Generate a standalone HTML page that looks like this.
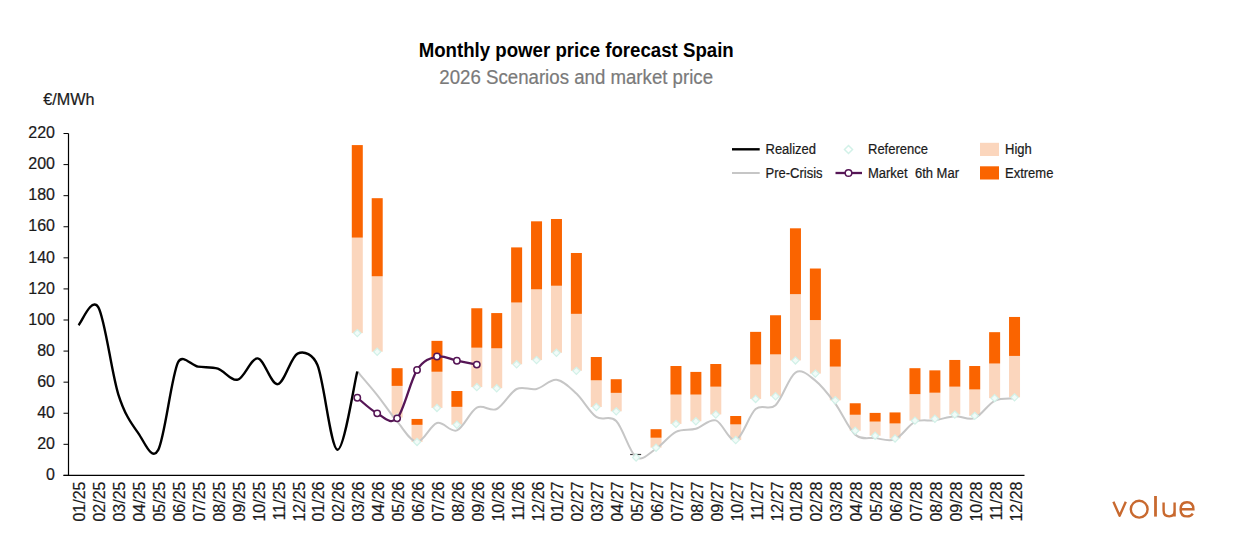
<!DOCTYPE html>
<html><head><meta charset="utf-8">
<style>
html,body{margin:0;padding:0;background:#fff;}
body{width:1235px;height:550px;overflow:hidden;position:relative;font-family:"Liberation Sans",sans-serif;}
svg{position:absolute;left:0;top:0;}
text{font-family:"Liberation Sans",sans-serif;fill:#1a1a1a;stroke:#1a1a1a;stroke-width:0.2px;}
.ax text{font-size:16px;} .yl{font-size:16.5px}
.lg text{font-size:13px;}
</style></head><body>
<svg width="1235" height="550" viewBox="0 0 1235 550">
<text transform="translate(576.2,56.8) scale(1,1.06)" text-anchor="middle" style="font-size:18.67px;font-weight:bold;fill:#000;stroke:none">Monthly power price forecast Spain</text>
<text transform="translate(576.2,83.8) scale(1,1.06)" text-anchor="middle" style="font-size:18.67px;fill:#7a7a7a;stroke:#7a7a7a">2026 Scenarios and market price</text>
<text x="43.2" y="105.2" style="font-size:16.2px">€/MWh</text>
<g class="ax"><text class="yl" x="55" y="480.10" text-anchor="end">0</text>
<text class="yl" x="55" y="449.02" text-anchor="end">20</text>
<text class="yl" x="55" y="417.94" text-anchor="end">40</text>
<text class="yl" x="55" y="386.86" text-anchor="end">60</text>
<text class="yl" x="55" y="355.78" text-anchor="end">80</text>
<text class="yl" x="55" y="324.70" text-anchor="end">100</text>
<text class="yl" x="55" y="293.62" text-anchor="end">120</text>
<text class="yl" x="55" y="262.54" text-anchor="end">140</text>
<text class="yl" x="55" y="231.46" text-anchor="end">160</text>
<text class="yl" x="55" y="200.38" text-anchor="end">180</text>
<text class="yl" x="55" y="169.30" text-anchor="end">200</text>
<text class="yl" x="55" y="138.22" text-anchor="end">220</text>
<text transform="translate(85.46,481.50) rotate(-90)" text-anchor="end">01/25</text>
<text transform="translate(105.38,481.50) rotate(-90)" text-anchor="end">02/25</text>
<text transform="translate(125.29,481.50) rotate(-90)" text-anchor="end">03/25</text>
<text transform="translate(145.21,481.50) rotate(-90)" text-anchor="end">04/25</text>
<text transform="translate(165.12,481.50) rotate(-90)" text-anchor="end">05/25</text>
<text transform="translate(185.04,481.50) rotate(-90)" text-anchor="end">06/25</text>
<text transform="translate(204.96,481.50) rotate(-90)" text-anchor="end">07/25</text>
<text transform="translate(224.88,481.50) rotate(-90)" text-anchor="end">08/25</text>
<text transform="translate(244.79,481.50) rotate(-90)" text-anchor="end">09/25</text>
<text transform="translate(264.71,481.50) rotate(-90)" text-anchor="end">10/25</text>
<text transform="translate(284.62,481.50) rotate(-90)" text-anchor="end">11/25</text>
<text transform="translate(304.54,481.50) rotate(-90)" text-anchor="end">12/25</text>
<text transform="translate(324.46,481.50) rotate(-90)" text-anchor="end">01/26</text>
<text transform="translate(344.38,481.50) rotate(-90)" text-anchor="end">02/26</text>
<text transform="translate(364.29,481.50) rotate(-90)" text-anchor="end">03/26</text>
<text transform="translate(384.21,481.50) rotate(-90)" text-anchor="end">04/26</text>
<text transform="translate(404.12,481.50) rotate(-90)" text-anchor="end">05/26</text>
<text transform="translate(424.04,481.50) rotate(-90)" text-anchor="end">06/26</text>
<text transform="translate(443.96,481.50) rotate(-90)" text-anchor="end">07/26</text>
<text transform="translate(463.88,481.50) rotate(-90)" text-anchor="end">08/26</text>
<text transform="translate(483.79,481.50) rotate(-90)" text-anchor="end">09/26</text>
<text transform="translate(503.71,481.50) rotate(-90)" text-anchor="end">10/26</text>
<text transform="translate(523.62,481.50) rotate(-90)" text-anchor="end">11/26</text>
<text transform="translate(543.54,481.50) rotate(-90)" text-anchor="end">12/26</text>
<text transform="translate(563.46,481.50) rotate(-90)" text-anchor="end">01/27</text>
<text transform="translate(583.38,481.50) rotate(-90)" text-anchor="end">02/27</text>
<text transform="translate(603.29,481.50) rotate(-90)" text-anchor="end">03/27</text>
<text transform="translate(623.21,481.50) rotate(-90)" text-anchor="end">04/27</text>
<text transform="translate(643.12,481.50) rotate(-90)" text-anchor="end">05/27</text>
<text transform="translate(663.04,481.50) rotate(-90)" text-anchor="end">06/27</text>
<text transform="translate(682.96,481.50) rotate(-90)" text-anchor="end">07/27</text>
<text transform="translate(702.88,481.50) rotate(-90)" text-anchor="end">08/27</text>
<text transform="translate(722.79,481.50) rotate(-90)" text-anchor="end">09/27</text>
<text transform="translate(742.71,481.50) rotate(-90)" text-anchor="end">10/27</text>
<text transform="translate(762.62,481.50) rotate(-90)" text-anchor="end">11/27</text>
<text transform="translate(782.54,481.50) rotate(-90)" text-anchor="end">12/27</text>
<text transform="translate(802.46,481.50) rotate(-90)" text-anchor="end">01/28</text>
<text transform="translate(822.38,481.50) rotate(-90)" text-anchor="end">02/28</text>
<text transform="translate(842.29,481.50) rotate(-90)" text-anchor="end">03/28</text>
<text transform="translate(862.21,481.50) rotate(-90)" text-anchor="end">04/28</text>
<text transform="translate(882.12,481.50) rotate(-90)" text-anchor="end">05/28</text>
<text transform="translate(902.04,481.50) rotate(-90)" text-anchor="end">06/28</text>
<text transform="translate(921.96,481.50) rotate(-90)" text-anchor="end">07/28</text>
<text transform="translate(941.88,481.50) rotate(-90)" text-anchor="end">08/28</text>
<text transform="translate(961.79,481.50) rotate(-90)" text-anchor="end">09/28</text>
<text transform="translate(981.71,481.50) rotate(-90)" text-anchor="end">10/28</text>
<text transform="translate(1001.62,481.50) rotate(-90)" text-anchor="end">11/28</text>
<text transform="translate(1021.54,481.50) rotate(-90)" text-anchor="end">12/28</text></g>
<rect x="351.79" y="237.62" width="11.00" height="95.48" fill="#FBD6BD"/>
<rect x="351.79" y="145.09" width="11.00" height="92.53" fill="#FA6400"/>
<rect x="371.71" y="276.28" width="11.00" height="75.45" fill="#FBD6BD"/>
<rect x="371.71" y="198.19" width="11.00" height="78.09" fill="#FA6400"/>
<rect x="391.62" y="385.89" width="11.00" height="31.67" fill="#FBD6BD"/>
<rect x="391.62" y="368.19" width="11.00" height="17.70" fill="#FA6400"/>
<rect x="411.54" y="424.85" width="11.00" height="17.08" fill="#FBD6BD"/>
<rect x="411.54" y="418.95" width="11.00" height="5.90" fill="#FA6400"/>
<rect x="431.46" y="371.76" width="11.00" height="36.17" fill="#FBD6BD"/>
<rect x="431.46" y="340.86" width="11.00" height="30.89" fill="#FA6400"/>
<rect x="451.38" y="406.85" width="11.00" height="17.85" fill="#FBD6BD"/>
<rect x="451.38" y="391.01" width="11.00" height="15.84" fill="#FA6400"/>
<rect x="471.29" y="347.69" width="11.00" height="39.43" fill="#FBD6BD"/>
<rect x="471.29" y="308.26" width="11.00" height="39.43" fill="#FA6400"/>
<rect x="491.21" y="348.32" width="11.00" height="39.90" fill="#FBD6BD"/>
<rect x="491.21" y="313.07" width="11.00" height="35.24" fill="#FA6400"/>
<rect x="511.12" y="302.52" width="11.00" height="61.79" fill="#FBD6BD"/>
<rect x="511.12" y="247.40" width="11.00" height="55.11" fill="#FA6400"/>
<rect x="531.04" y="289.32" width="11.00" height="70.79" fill="#FBD6BD"/>
<rect x="531.04" y="221.32" width="11.00" height="68.00" fill="#FA6400"/>
<rect x="550.96" y="285.75" width="11.00" height="67.07" fill="#FBD6BD"/>
<rect x="550.96" y="218.99" width="11.00" height="66.76" fill="#FA6400"/>
<rect x="570.88" y="313.85" width="11.00" height="56.98" fill="#FBD6BD"/>
<rect x="570.88" y="252.99" width="11.00" height="60.86" fill="#FA6400"/>
<rect x="590.79" y="380.30" width="11.00" height="26.70" fill="#FBD6BD"/>
<rect x="590.79" y="357.01" width="11.00" height="23.29" fill="#FA6400"/>
<rect x="610.71" y="392.87" width="11.00" height="18.47" fill="#FBD6BD"/>
<rect x="610.71" y="379.21" width="11.00" height="13.66" fill="#FA6400"/>
<rect x="650.54" y="437.74" width="11.00" height="9.94" fill="#FBD6BD"/>
<rect x="650.54" y="429.20" width="11.00" height="8.54" fill="#FA6400"/>
<rect x="670.46" y="394.58" width="11.00" height="29.34" fill="#FBD6BD"/>
<rect x="670.46" y="366.01" width="11.00" height="28.57" fill="#FA6400"/>
<rect x="690.38" y="394.58" width="11.00" height="26.70" fill="#FBD6BD"/>
<rect x="690.38" y="371.91" width="11.00" height="22.67" fill="#FA6400"/>
<rect x="710.29" y="386.66" width="11.00" height="27.79" fill="#FBD6BD"/>
<rect x="710.29" y="364.00" width="11.00" height="22.67" fill="#FA6400"/>
<rect x="730.21" y="424.39" width="11.00" height="15.68" fill="#FBD6BD"/>
<rect x="730.21" y="416.00" width="11.00" height="8.38" fill="#FA6400"/>
<rect x="750.12" y="364.46" width="11.00" height="34.47" fill="#FBD6BD"/>
<rect x="750.12" y="331.86" width="11.00" height="32.60" fill="#FA6400"/>
<rect x="770.04" y="354.37" width="11.00" height="41.92" fill="#FBD6BD"/>
<rect x="770.04" y="315.25" width="11.00" height="39.12" fill="#FA6400"/>
<rect x="789.96" y="294.13" width="11.00" height="66.29" fill="#FBD6BD"/>
<rect x="789.96" y="228.31" width="11.00" height="65.83" fill="#FA6400"/>
<rect x="809.88" y="320.06" width="11.00" height="53.56" fill="#FBD6BD"/>
<rect x="809.88" y="268.52" width="11.00" height="51.54" fill="#FA6400"/>
<rect x="829.79" y="366.64" width="11.00" height="33.69" fill="#FBD6BD"/>
<rect x="829.79" y="339.31" width="11.00" height="27.32" fill="#FA6400"/>
<rect x="849.71" y="414.76" width="11.00" height="15.99" fill="#FBD6BD"/>
<rect x="849.71" y="403.27" width="11.00" height="11.49" fill="#FA6400"/>
<rect x="869.62" y="421.59" width="11.00" height="14.13" fill="#FBD6BD"/>
<rect x="869.62" y="412.90" width="11.00" height="8.69" fill="#FA6400"/>
<rect x="889.54" y="423.46" width="11.00" height="15.06" fill="#FBD6BD"/>
<rect x="889.54" y="412.43" width="11.00" height="11.02" fill="#FA6400"/>
<rect x="909.46" y="394.11" width="11.00" height="26.55" fill="#FBD6BD"/>
<rect x="909.46" y="368.19" width="11.00" height="25.93" fill="#FA6400"/>
<rect x="929.38" y="392.72" width="11.00" height="26.08" fill="#FBD6BD"/>
<rect x="929.38" y="370.36" width="11.00" height="22.36" fill="#FA6400"/>
<rect x="949.29" y="386.66" width="11.00" height="27.94" fill="#FBD6BD"/>
<rect x="949.29" y="359.96" width="11.00" height="26.70" fill="#FA6400"/>
<rect x="969.21" y="389.46" width="11.00" height="26.39" fill="#FBD6BD"/>
<rect x="969.21" y="366.01" width="11.00" height="23.44" fill="#FA6400"/>
<rect x="989.12" y="363.53" width="11.00" height="34.62" fill="#FBD6BD"/>
<rect x="989.12" y="332.17" width="11.00" height="31.36" fill="#FA6400"/>
<rect x="1009.04" y="355.92" width="11.00" height="41.45" fill="#FBD6BD"/>
<rect x="1009.04" y="316.96" width="11.00" height="38.97" fill="#FA6400"/>
<path d="M630.12,454.5 H641.12" stroke="#3a3a3a" stroke-width="1.2"/>
<path d="M68.5,133.4 V475.9 M63.5,475.3 H1024.5" stroke="#000" stroke-width="1.2" fill="none"/>
<path d="M63.5,475.40 H68.5 M63.5,444.32 H68.5 M63.5,413.24 H68.5 M63.5,382.16 H68.5 M63.5,351.08 H68.5 M63.5,320.00 H68.5 M63.5,288.92 H68.5 M63.5,257.84 H68.5 M63.5,226.76 H68.5 M63.5,195.68 H68.5 M63.5,164.60 H68.5 M63.5,133.52 H68.5" stroke="#000" stroke-width="1" fill="none"/>
<path d="M357.29,371.45 C360.61,375.38 370.57,386.71 377.21,395.05 C383.85,403.38 390.49,413.62 397.12,421.44 C403.76,429.25 410.40,441.67 417.04,441.93 C423.68,442.19 430.32,424.91 436.96,422.99 C443.60,421.08 450.24,433.00 456.88,430.44 C463.51,427.88 470.15,411.19 476.79,407.62 C483.43,404.05 490.07,412.12 496.71,409.02 C503.35,405.91 509.99,392.33 516.62,388.99 C523.26,385.65 529.90,390.52 536.54,388.99 C543.18,387.46 549.82,379.08 556.46,379.83 C563.10,380.58 569.74,387.31 576.38,393.49 C583.01,399.68 589.65,412.36 596.29,416.94 C602.93,421.52 609.57,414.27 616.21,420.97 C622.85,427.67 629.49,452.51 636.12,457.15 C642.76,461.78 649.40,452.98 656.04,448.76 C662.68,444.55 669.32,435.18 675.96,431.84 C682.60,428.50 689.24,430.65 695.88,428.74 C702.51,426.82 709.15,418.46 715.79,420.35 C722.43,422.24 729.07,441.96 735.71,440.07 C742.35,438.18 748.99,414.84 755.62,409.02 C762.26,403.20 768.90,411.22 775.54,405.14 C782.18,399.06 788.82,376.62 795.46,372.53 C802.10,368.45 808.74,375.43 815.38,380.61 C822.01,385.78 828.65,394.58 835.29,403.59 C841.93,412.59 848.57,428.89 855.21,434.63 C861.85,440.38 868.49,437.27 875.12,438.05 C881.76,438.83 888.40,441.98 895.04,439.29 C901.68,436.60 908.32,425.06 914.96,421.90 C921.60,418.75 928.24,421.31 934.88,420.35 C941.51,419.39 948.15,416.52 954.79,416.16 C961.43,415.80 968.07,420.74 974.71,418.18 C981.35,415.62 987.99,404.08 994.62,400.79 C1001.26,397.50 1011.22,398.85 1014.54,398.46" stroke="#C6C6C6" stroke-width="2" fill="none"/>
<path d="M78.46,325.18 C81.78,322.21 91.74,295.82 98.38,307.33 C105.01,318.84 111.65,373.31 118.29,394.27 C124.88,415.06 131.57,423.77 138.21,433.08 C144.85,442.40 151.69,461.59 158.12,450.16 C164.76,438.36 171.40,376.21 178.04,362.29 C182.43,353.09 191.32,365.57 197.96,366.64 C204.60,367.70 211.24,366.48 217.88,368.65 C224.51,370.83 231.15,381.38 237.79,379.68 C244.43,377.97 251.07,357.66 257.71,358.41 C264.35,359.16 270.99,384.98 277.62,384.18 C284.26,383.38 290.90,356.78 297.54,353.59 C304.18,350.41 313.06,354.46 317.46,365.08 C324.10,381.10 330.74,448.63 337.38,449.69 C344.01,450.76 353.97,384.49 357.29,371.45" stroke="#000" stroke-width="2.4" fill="none" stroke-linejoin="round"/>
<path d="M357.29,329.50 l3.6,3.6 l-3.6,3.6 l-3.6,-3.6 z" fill="#F2FBF8" stroke="#D2F1E8" stroke-width="1.2"/>
<path d="M377.21,348.13 l3.6,3.6 l-3.6,3.6 l-3.6,-3.6 z" fill="#F2FBF8" stroke="#D2F1E8" stroke-width="1.2"/>
<path d="M397.12,413.96 l3.6,3.6 l-3.6,3.6 l-3.6,-3.6 z" fill="#F2FBF8" stroke="#D2F1E8" stroke-width="1.2"/>
<path d="M417.04,438.33 l3.6,3.6 l-3.6,3.6 l-3.6,-3.6 z" fill="#F2FBF8" stroke="#D2F1E8" stroke-width="1.2"/>
<path d="M436.96,404.33 l3.6,3.6 l-3.6,3.6 l-3.6,-3.6 z" fill="#F2FBF8" stroke="#D2F1E8" stroke-width="1.2"/>
<path d="M456.88,421.10 l3.6,3.6 l-3.6,3.6 l-3.6,-3.6 z" fill="#F2FBF8" stroke="#D2F1E8" stroke-width="1.2"/>
<path d="M476.79,383.53 l3.6,3.6 l-3.6,3.6 l-3.6,-3.6 z" fill="#F2FBF8" stroke="#D2F1E8" stroke-width="1.2"/>
<path d="M496.71,384.62 l3.6,3.6 l-3.6,3.6 l-3.6,-3.6 z" fill="#F2FBF8" stroke="#D2F1E8" stroke-width="1.2"/>
<path d="M516.62,360.71 l3.6,3.6 l-3.6,3.6 l-3.6,-3.6 z" fill="#F2FBF8" stroke="#D2F1E8" stroke-width="1.2"/>
<path d="M536.54,356.51 l3.6,3.6 l-3.6,3.6 l-3.6,-3.6 z" fill="#F2FBF8" stroke="#D2F1E8" stroke-width="1.2"/>
<path d="M556.46,349.22 l3.6,3.6 l-3.6,3.6 l-3.6,-3.6 z" fill="#F2FBF8" stroke="#D2F1E8" stroke-width="1.2"/>
<path d="M576.38,367.23 l3.6,3.6 l-3.6,3.6 l-3.6,-3.6 z" fill="#F2FBF8" stroke="#D2F1E8" stroke-width="1.2"/>
<path d="M596.29,403.40 l3.6,3.6 l-3.6,3.6 l-3.6,-3.6 z" fill="#F2FBF8" stroke="#D2F1E8" stroke-width="1.2"/>
<path d="M616.21,407.75 l3.6,3.6 l-3.6,3.6 l-3.6,-3.6 z" fill="#F2FBF8" stroke="#D2F1E8" stroke-width="1.2"/>
<path d="M636.12,453.86 l3.6,3.6 l-3.6,3.6 l-3.6,-3.6 z" fill="#F2FBF8" stroke="#D2F1E8" stroke-width="1.2"/>
<path d="M656.04,444.08 l3.6,3.6 l-3.6,3.6 l-3.6,-3.6 z" fill="#F2FBF8" stroke="#D2F1E8" stroke-width="1.2"/>
<path d="M675.96,420.32 l3.6,3.6 l-3.6,3.6 l-3.6,-3.6 z" fill="#F2FBF8" stroke="#D2F1E8" stroke-width="1.2"/>
<path d="M695.88,417.68 l3.6,3.6 l-3.6,3.6 l-3.6,-3.6 z" fill="#F2FBF8" stroke="#D2F1E8" stroke-width="1.2"/>
<path d="M715.79,410.85 l3.6,3.6 l-3.6,3.6 l-3.6,-3.6 z" fill="#F2FBF8" stroke="#D2F1E8" stroke-width="1.2"/>
<path d="M735.71,436.47 l3.6,3.6 l-3.6,3.6 l-3.6,-3.6 z" fill="#F2FBF8" stroke="#D2F1E8" stroke-width="1.2"/>
<path d="M755.62,395.33 l3.6,3.6 l-3.6,3.6 l-3.6,-3.6 z" fill="#F2FBF8" stroke="#D2F1E8" stroke-width="1.2"/>
<path d="M775.54,392.69 l3.6,3.6 l-3.6,3.6 l-3.6,-3.6 z" fill="#F2FBF8" stroke="#D2F1E8" stroke-width="1.2"/>
<path d="M795.46,356.83 l3.6,3.6 l-3.6,3.6 l-3.6,-3.6 z" fill="#F2FBF8" stroke="#D2F1E8" stroke-width="1.2"/>
<path d="M815.38,370.02 l3.6,3.6 l-3.6,3.6 l-3.6,-3.6 z" fill="#F2FBF8" stroke="#D2F1E8" stroke-width="1.2"/>
<path d="M835.29,396.72 l3.6,3.6 l-3.6,3.6 l-3.6,-3.6 z" fill="#F2FBF8" stroke="#D2F1E8" stroke-width="1.2"/>
<path d="M855.21,427.15 l3.6,3.6 l-3.6,3.6 l-3.6,-3.6 z" fill="#F2FBF8" stroke="#D2F1E8" stroke-width="1.2"/>
<path d="M875.12,432.12 l3.6,3.6 l-3.6,3.6 l-3.6,-3.6 z" fill="#F2FBF8" stroke="#D2F1E8" stroke-width="1.2"/>
<path d="M895.04,434.92 l3.6,3.6 l-3.6,3.6 l-3.6,-3.6 z" fill="#F2FBF8" stroke="#D2F1E8" stroke-width="1.2"/>
<path d="M914.96,417.06 l3.6,3.6 l-3.6,3.6 l-3.6,-3.6 z" fill="#F2FBF8" stroke="#D2F1E8" stroke-width="1.2"/>
<path d="M934.88,415.20 l3.6,3.6 l-3.6,3.6 l-3.6,-3.6 z" fill="#F2FBF8" stroke="#D2F1E8" stroke-width="1.2"/>
<path d="M954.79,411.01 l3.6,3.6 l-3.6,3.6 l-3.6,-3.6 z" fill="#F2FBF8" stroke="#D2F1E8" stroke-width="1.2"/>
<path d="M974.71,412.25 l3.6,3.6 l-3.6,3.6 l-3.6,-3.6 z" fill="#F2FBF8" stroke="#D2F1E8" stroke-width="1.2"/>
<path d="M994.62,394.55 l3.6,3.6 l-3.6,3.6 l-3.6,-3.6 z" fill="#F2FBF8" stroke="#D2F1E8" stroke-width="1.2"/>
<path d="M1014.54,393.77 l3.6,3.6 l-3.6,3.6 l-3.6,-3.6 z" fill="#F2FBF8" stroke="#D2F1E8" stroke-width="1.2"/>
<path d="M357.29,397.69 C360.61,400.30 370.57,409.92 377.21,413.37 C383.85,416.81 390.49,425.55 397.12,418.33 C403.76,411.11 410.40,380.35 417.04,370.05 C423.56,359.94 430.32,358.10 436.96,356.54 C443.60,354.99 450.24,359.39 456.88,360.74 C463.51,362.08 473.47,363.97 476.79,364.62" stroke="#561656" stroke-width="2.3" fill="none"/>
<circle cx="357.29" cy="397.69" r="3.2" fill="#fff" stroke="#561656" stroke-width="1.5"/>
<circle cx="377.21" cy="413.37" r="3.2" fill="#fff" stroke="#561656" stroke-width="1.5"/>
<circle cx="397.12" cy="418.33" r="3.2" fill="#fff" stroke="#561656" stroke-width="1.5"/>
<circle cx="417.04" cy="370.05" r="3.2" fill="#fff" stroke="#561656" stroke-width="1.5"/>
<circle cx="436.96" cy="356.54" r="3.2" fill="#fff" stroke="#561656" stroke-width="1.5"/>
<circle cx="456.88" cy="360.74" r="3.2" fill="#fff" stroke="#561656" stroke-width="1.5"/>
<circle cx="476.79" cy="364.62" r="3.2" fill="#fff" stroke="#561656" stroke-width="1.5"/>
<g class="lg">
<path d="M732,149.3 H759.7" stroke="#000" stroke-width="2.4"/>
<text transform="translate(765.5,153.9) scale(1,1.07)">Realized</text>
<path d="M732,173 H759.7" stroke="#C6C6C6" stroke-width="2"/>
<text transform="translate(765.5,177.6) scale(1,1.07)">Pre-Crisis</text>
<path d="M848.5,145.5 l4,4 l-4,4 l-4,-4 z" fill="#fff" stroke="#D2F1E8" stroke-width="1.5"/>
<text transform="translate(868,153.9) scale(1,1.07)">Reference</text>
<path d="M835.5,173 H862" stroke="#561656" stroke-width="2.3"/>
<circle cx="848.5" cy="173" r="3.3" fill="#fff" stroke="#561656" stroke-width="1.5"/>
<text transform="translate(868,177.6) scale(1,1.07)" xml:space="preserve">Market  6th Mar</text>
<rect x="980" y="142.8" width="19" height="13.2" fill="#FBD6BD"/>
<text transform="translate(1005,153.9) scale(1,1.07)">High</text>
<rect x="980" y="166.3" width="19" height="13.2" fill="#FA6400"/>
<text transform="translate(1005,177.6) scale(1,1.07)">Extreme</text>
</g>

<g fill="none" stroke="#C8692F" stroke-width="2.4" stroke-linecap="butt">
<path d="M1113.4,501.8 L1119.6,515.8 L1125.8,501.8" stroke-linejoin="round"/>
<circle cx="1139.2" cy="509.2" r="8.4"/>
<path d="M1155.5,496 V516.6" stroke-width="2.8"/>
<path d="M1163.6,502.4 V510.6 Q1163.6,516.4 1169.2,516.4 Q1174.6,516.4 1174.6,510.6 M1174.6,502.4 V516.6"/>
<path d="M1180.6,509.2 H1193.4 Q1193.4,502.2 1187,502.2 Q1180.6,502.2 1180.6,509.4 Q1180.6,516.4 1187.2,516.4 Q1191,516.4 1192.8,513.6"/>
</g>

</svg>
</body></html>
